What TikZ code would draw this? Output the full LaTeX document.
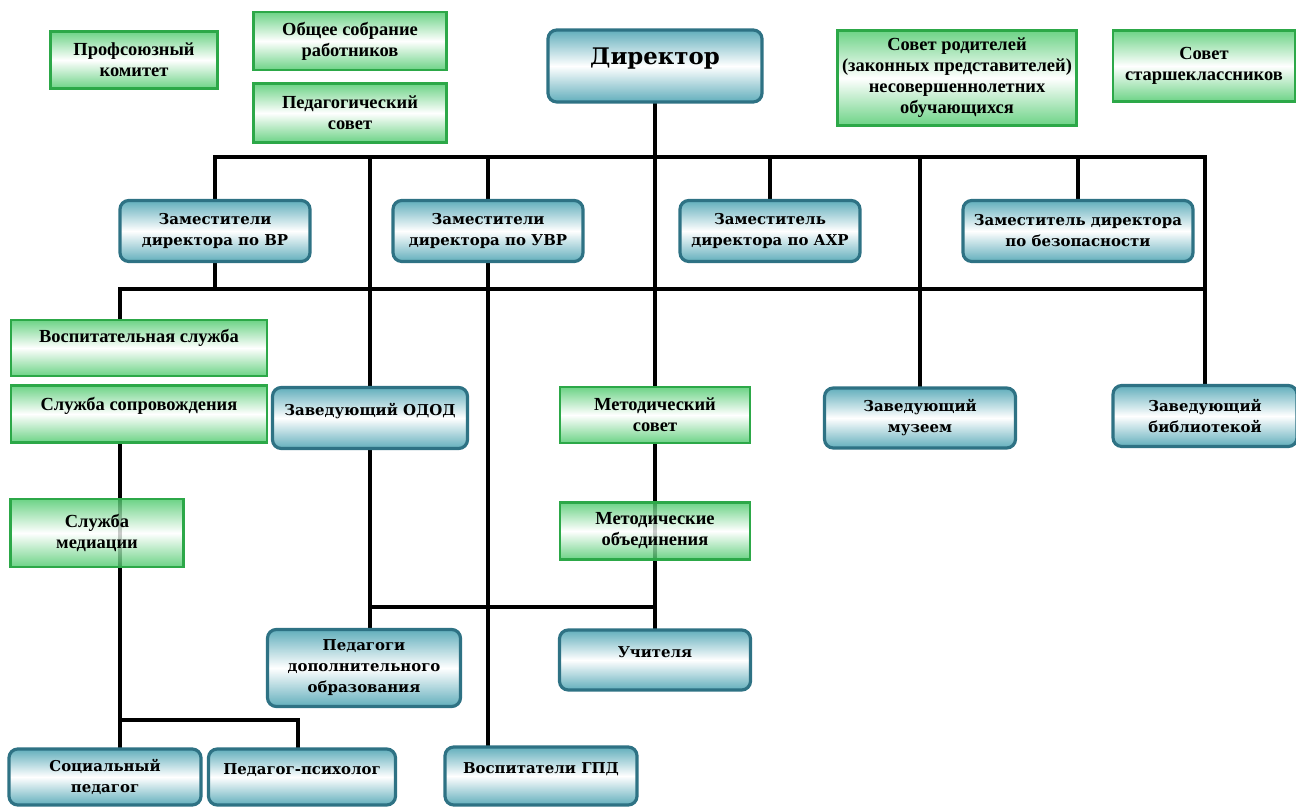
\documentclass[tikz,border=0pt]{standalone}
\usepackage{fontspec}
\setmainfont{Liberation Serif}
\newfontfamily\cambr{DejaVu Serif}
\usepackage{tikz}
\usetikzlibrary{calc, backgrounds}

\definecolor{grnEdge}{RGB}{44,168,72}
\definecolor{grnFill}{RGB}{72,200,104}
\definecolor{tealEdge}{RGB}{46,114,132}
\definecolor{tealFill}{RGB}{70,160,176}

\tikzset{
	sz/.style 2 args={minimum width=#1*0.02cm, minimum height=#2*0.02cm},
	lift/.style={text depth=#1*0.02cm},
	grnbox/.style={rectangle, draw=grnEdge, line width=1.3pt, top color=grnFill, bottom color=grnFill, middle color=white, fill opacity=0.8, text opacity=1, align=center, inner sep=1pt, font=\bfseries\fontsize{10.5}{12}\selectfont},
	tealbox/.style={rectangle, rounded corners=5pt, draw=tealEdge, line width=1.8pt, top color=tealFill, bottom color=tealFill, middle color=white, fill opacity=0.85, text opacity=1, align=center, inner sep=1pt, font=\cambr\bfseries\fontsize{8.5}{12}\selectfont},
	link/.style={line width=2.2pt, line cap=rect, black}
}

\begin{document}
\begin{tikzpicture}[x=0.02cm, y=-0.02cm]
					\useasboundingbox (0,0) rectangle (1296,807);
					\def\yTop{157};
					\def\yMid{289};

					\begin{scope}
						\node[grnbox, sz={167}{57}] (profkom) at (134,60) {Профсоюзный\\комитет};
						\node[grnbox, sz={193}{58}] (sobranie) at (350,41) {Общее собрание\\работников};
						\node[grnbox, sz={193}{59}] (pedsovet) at (350,113) {Педагогический\\совет};
						\node[grnbox, sz={239}{95}] (sovRod) at (957,78) {Совет родителей\\(законных представителей)\\несовершеннолетних\\обучающихся};
						\node[grnbox, sz={182}{71}] (sovStar) at (1204,66) {Совет\\старшеклассников};
						\node[tealbox, sz={214}{72}, lift=20, font=\cambr\bfseries\fontsize{13}{15}\selectfont] (dir) at (655,66) {Директор};
					\end{scope}

					\begin{scope}
						\node[tealbox, sz={190}{61}] (zamVR) at (215,231) {Заместители\\директора по ВР};
						\node[tealbox, sz={190}{61}] (zamUVR) at (488,231) {Заместители\\директора по УВР};
						\node[tealbox, sz={180}{61}] (zamAHR) at (770,231) {Заместитель\\директора по АХР};
						\node[tealbox, sz={230}{61}] (zamBez) at (1078,231) {Заместитель директора\\по безопасности};
					\end{scope}

					\begin{scope}
						\node[grnbox, sz={256}{56}, lift=24] (vospSl) at (139,348) {Воспитательная служба};
						\node[grnbox, sz={256}{57}, lift=20] (soprov) at (139,414) {Служба сопровождения};
						\node[grnbox, sz={173}{68}] (mediac) at (97,533) {Служба\\медиации};
						\node[tealbox, sz={195}{61}, lift=18] (odod) at (370,418) {Заведующий ОДОД};
						\node[grnbox, sz={190}{56}] (metSov) at (655,415) {Методический\\совет};
						\node[tealbox, sz={191}{60}] (muzej) at (920,418) {Заведующий\\музеем};
						\node[tealbox, sz={184}{61}] (biblio) at (1205,416) {Заведующий\\библиотекой};
						\node[grnbox, sz={190}{57}] (metOb) at (655,531) {Методические\\объединения};
					\end{scope}

					\begin{scope}
						\node[tealbox, sz={191}{60}, lift=16] (uchit) at (655,660) {Учителя};
						\node[tealbox, sz={193}{77}] (pdo) at (364,668) {Педагоги\\дополнительного\\образования};
						\node[tealbox, sz={192}{56}] (socPed) at (105,777) {Социальный\\педагог};
						\node[tealbox, sz={187}{56}, lift=16] (psiholog) at (302,777) {Педагог-психолог};
						\node[tealbox, sz={192}{58}, lift=16] (gpd) at (541,776) {Воспитатели ГПД};
					\end{scope}

					\begin{scope}[on background layer]
						\coordinate (tL) at (zamVR |- 0,\yTop);
						\coordinate (tR) at (biblio |- 0,\yTop);
						\coordinate (mL) at (120,\yMid);
						\coordinate (mR) at (biblio |- 0,\yMid);
						\coordinate (sB) at (120,720);
						\coordinate (sR) at (298,720);
						\coordinate (uL) at (odod |- 0,607);

						\draw[link] (tL) -- (tR);
						\draw[link] (dir) -- (dir |- tL);
						\foreach \n in {zamVR, zamUVR, zamAHR, zamBez, odod, metSov, muzej, biblio}
						{
							\draw[link] (\n |- tL) -- (\n);
						}

						\draw[link] (mL) -- (mR);
						\draw[link] (zamVR) -- (zamVR |- mL);
						\draw[link] (mL) -- (mL |- vospSl.north);
						\draw[link] (zamUVR) -- (zamUVR |- gpd.north);

						\draw[link] (soprov.south -| mL) -- (mL |- socPed.north);
						\draw[link] (sB) -- (sR) -- (sR |- psiholog.north);

						\draw[link] (metSov) -- (uchit);
						\draw[link] (odod) -- (odod |- pdo.north);
						\draw[link] (uL) -- (uL -| metOb);
					\end{scope}
				\end{tikzpicture}
\end{document}
